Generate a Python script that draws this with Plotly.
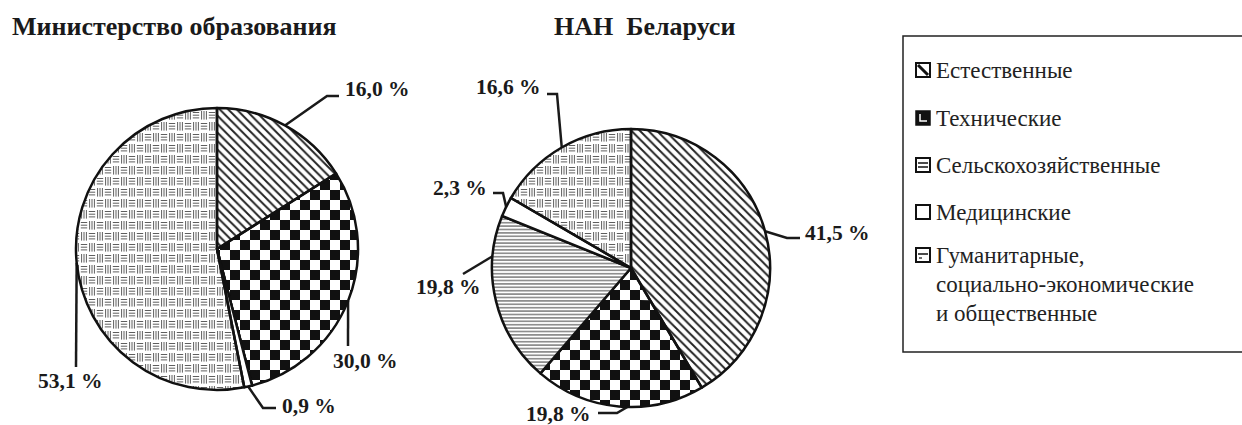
import math
import plotly.graph_objects as go

# ---------------- data ----------------
categories = ["Естественные", "Технические", "Сельскохозяйственные", "Медицинские",
              "Гуманитарные, социально-экономические и общественные"]
legend_lines = [["Естественные"], ["Технические"], ["Сельскохозяйственные"], ["Медицинские"],
                ["Гуманитарные,", "социально-экономические", "и общественные"]]
ministry_values = [16.0, 30.0, 0.0, 0.9, 53.1]
nan_values = [41.5, 19.8, 19.8, 2.3, 16.6]
titles = ["Министерство образования", "НАН  Беларуси"]

# ---------------- layout / style ----------------
W, H = 1242, 425
FONT = "Liberation Serif, Times New Roman, DejaVu Serif, serif"
INK = "#1a1a1a"
PIES = [dict(cx=217, cy=249, r=141, values=ministry_values),
        dict(cx=631, cy=268, r=139, values=nan_values)]
TITLE_POS = [(10, 26), (552, 26)]

# per-slice label styles: (fraction along slice for anchor, leader points, text x, text y, xanchor)
LABEL_STYLE = [
    {0: (0.5, [(327, 96), (339, 96)], 343, 89, "left"),
     1: (0.5, [(348, 346)], 365, 361, "center"),
     3: (0.5, [(263, 408), (276, 408)], 280, 406, "left"),
     4: (0.5, [(76, 367)], 70, 381, "center")},
    {0: (0.5, [(787, 238), (800, 238)], 803, 233, "left"),
     1: (0.45, [(617, 413), (598, 413)], 593, 414, "right"),
     2: (0.76, [(463, 274)], 483, 287, "right"),
     3: (0.5, [(503, 193), (493, 193)], 489, 188, "right"),
     4: (0.5, [(557, 94), (547, 94)], 543, 87, "right")},
]

LEGEND_BOX = (903, 36, 1262, 352)
LEGEND_ROWS = [70, 118, 165, 212, 255]
LEGEND_LINE_H = 29

TECH, HUM = 1, 4
CHECK = 10          # checker cell size (px)
HUM_W, HUM_H = 8, 11  # basket-weave cell size (px)


def pt(cx, cy, r, deg):
    a = math.radians(deg)
    return (cx + r * math.sin(a), cy - r * math.cos(a))


def slice_angles(values):
    tot = sum(values)
    out, acc = [], 0.0
    for v in values:
        a0 = acc / tot * 360
        acc += v
        out.append((a0, acc / tot * 360))
    return out


def wedge_poly(cx, cy, r, a0, a1):
    pts = [(cx, cy)]
    steps = max(2, int(abs(a1 - a0) / 1.5))
    for k in range(steps + 1):
        pts.append(pt(cx, cy, r, a0 + (a1 - a0) * k / steps))
    return pts


def signed_area(p):
    n = len(p)
    return 0.5 * sum(p[i][0] * p[(i + 1) % n][1] - p[(i + 1) % n][0] * p[i][1] for i in range(n))


def clip(subject, clipper):
    s = 1 if signed_area(clipper) > 0 else -1

    def inside(p, a, b):
        return s * ((b[0] - a[0]) * (p[1] - a[1]) - (b[1] - a[1]) * (p[0] - a[0])) >= 0

    def inter(p, q, a, b):
        x1, y1 = p; x2, y2 = q; x3, y3 = a; x4, y4 = b
        den = (x1 - x2) * (y3 - y4) - (y1 - y2) * (x3 - x4)
        if abs(den) < 1e-12:
            return q
        t = ((x1 - x3) * (y3 - y4) - (y1 - y3) * (x3 - x4)) / den
        return (x1 + t * (x2 - x1), y1 + t * (y2 - y1))

    out = list(subject)
    n = len(clipper)
    for i in range(n):
        a, b = clipper[i], clipper[(i + 1) % n]
        if a == b:
            continue
        inp, out = out, []
        if not inp:
            break
        for j in range(len(inp)):
            cur, prev = inp[j], inp[j - 1]
            if inside(cur, a, b):
                if not inside(prev, a, b):
                    out.append(inter(prev, cur, a, b))
                out.append(cur)
            elif inside(prev, a, b):
                out.append(inter(prev, cur, a, b))
    return out


fig = go.Figure()

for pi, P in enumerate(PIES):
    cx, cy, r, vals = P["cx"], P["cy"], P["r"], P["values"]
    angs = slice_angles(vals)

    # basket-weave texture (humanities) clipped to circle; other slices cover it
    hx, hy = [], []
    rr = r - 1
    i0, i1 = int((cx - r) // HUM_W) - 1, int((cx + r) // HUM_W) + 1
    j0, j1 = int((cy - r) // HUM_H) - 1, int((cy + r) // HUM_H) + 1
    for i in range(i0, i1 + 1):
        for j in range(j0, j1 + 1):
            L, T = i * HUM_W, j * HUM_H
            if (i + j) % 2 == 0:
                for off in (2.5, 5.2, 7.9):
                    y = T + off
                    dy = y - cy
                    if abs(dy) >= rr:
                        continue
                    half = math.sqrt(rr * rr - dy * dy)
                    xa, xb = max(L + 0.8, cx - half), min(L + 7.2, cx + half)
                    if xa < xb:
                        hx += [xa, xb, None]; hy += [y, y, None]
            else:
                for off in (1.6, 4.0, 6.4):
                    x = L + off
                    dx = x - cx
                    if abs(dx) >= rr:
                        continue
                    half = math.sqrt(rr * rr - dx * dx)
                    ya, yb = max(T + 1.0, cy - half), min(T + 9.6, cy + half)
                    if ya < yb:
                        hx += [x, x, None]; hy += [ya, yb, None]
    fig.add_trace(go.Scatter(x=hx, y=hy, mode="lines", line=dict(color="#5e5e5e", width=1),
                             hoverinfo="skip", showlegend=False))

    # technical slice: white base + checkerboard
    a0, a1 = angs[TECH]
    wp = wedge_poly(cx, cy, r, a0, a1)
    fig.add_trace(go.Scatter(x=[p[0] for p in wp], y=[p[1] for p in wp], mode="lines",
                             fill="toself", fillcolor="white", line=dict(width=0, color="rgba(0,0,0,0)"),
                             hoverinfo="skip", showlegend=False))
    xs = [p[0] for p in wp]; ys = [p[1] for p in wp]
    cxs, cys = [], []
    for i in range(int(min(xs) // CHECK) - 1, int(max(xs) // CHECK) + 2):
        for j in range(int(min(ys) // CHECK) - 1, int(max(ys) // CHECK) + 2):
            if (i + j) % 2:
                continue
            sq = [(i * CHECK, j * CHECK), ((i + 1) * CHECK, j * CHECK),
                  ((i + 1) * CHECK, (j + 1) * CHECK), (i * CHECK, (j + 1) * CHECK)]
            poly = clip(sq, wp)
            if len(poly) >= 3:
                cxs += [p[0] for p in poly] + [poly[0][0], None]
                cys += [p[1] for p in poly] + [poly[0][1], None]
    fig.add_trace(go.Scatter(x=cxs, y=cys, mode="lines", fill="toself", fillcolor="#111111",
                             line=dict(width=0, color="rgba(0,0,0,0)"),
                             hoverinfo="skip", showlegend=False))

    # the pie itself
    colors = ["white", "rgba(0,0,0,0)", "white", "white", "rgba(0,0,0,0)"]
    fig.add_trace(go.Pie(
        labels=categories, values=vals, sort=False, direction="clockwise", rotation=0,
        textinfo="none", hoverinfo="label+value", showlegend=False,
        domain=dict(x=[(cx - r) / W, (cx + r) / W], y=[1 - (cy + r) / H, 1 - (cy - r) / H]),
        marker=dict(colors=colors, line=dict(color="#111111", width=2.5),
                    pattern=dict(shape=["\\", "", "-", "", ""],
                                 fgcolor=["#222222", "#000", "#555555", "#000", "#000"],
                                 bgcolor=["white", "rgba(0,0,0,0)", "white", "white", "rgba(0,0,0,0)"],
                                 size=[6, 8, 3.4, 8, 8], solidity=[0.32, 0.3, 0.33, 0.3, 0.3],
                                 fillmode="replace")),
    ))

    # labels with leader lines
    for k, (frac, path, tx, ty, xa) in LABEL_STYLE[pi].items():
        b0, b1 = angs[k]
        ax, ay = pt(cx, cy, r, b0 + (b1 - b0) * frac)
        fig.add_trace(go.Scatter(x=[ax] + [p[0] for p in path], y=[ay] + [p[1] for p in path],
                                 mode="lines", line=dict(color=INK, width=2.5),
                                 hoverinfo="skip", showlegend=False))
        txt = ("%.1f" % vals[k]).replace(".", ",") + " %"
        fig.add_annotation(x=tx, y=ty, xref="x", yref="y", text="<b>" + txt + "</b>",
                           showarrow=False, xanchor=xa, yanchor="middle",
                           font=dict(family=FONT, size=21.5, color=INK))

# titles
for (tx, ty), t in zip(TITLE_POS, titles):
    fig.add_annotation(x=tx, y=ty, xref="x", yref="y", text="<b>" + t + "</b>", showarrow=False,
                       xanchor="left", yanchor="middle", font=dict(family=FONT, size=26, color=INK))

# legend (manual)
shapes = [dict(type="rect", xref="x", yref="y", x0=LEGEND_BOX[0], y0=LEGEND_BOX[1],
               x1=LEGEND_BOX[2], y1=LEGEND_BOX[3], line=dict(color="#222", width=1.5))]
for idx, (lines, yc) in enumerate(zip(legend_lines, LEGEND_ROWS)):
    x0, x1, y0, y1 = 916, 930, yc - 7, yc + 7
    if idx == 1:
        shapes.append(dict(type="rect", xref="x", yref="y", x0=x0, y0=y0, x1=x1, y1=y1,
                           fillcolor="#111", line=dict(color="#111", width=1.5)))
        shapes.append(dict(type="path", xref="x", yref="y",
                           path=f"M{x0+4},{y0+3} L{x0+4},{y1-4} L{x1-3},{y1-4}",
                           line=dict(color="white", width=1.5)))
    else:
        shapes.append(dict(type="rect", xref="x", yref="y", x0=x0, y0=y0, x1=x1, y1=y1,
                           fillcolor="white", line=dict(color="#111", width=2)))
        if idx == 0:
            shapes.append(dict(type="line", xref="x", yref="y", x0=x0 + 2, y0=y0 + 2, x1=x1 - 2, y1=y1 - 2,
                               line=dict(color="#111", width=3)))
        elif idx == 2:
            for yy in (yc - 2, yc + 2):
                shapes.append(dict(type="line", xref="x", yref="y", x0=x0 + 2, y0=yy, x1=x1 - 2, y1=yy,
                                   line=dict(color="#111", width=1.5)))
        elif idx == 4:
            shapes.append(dict(type="line", xref="x", yref="y", x0=x0 + 2, y0=yc - 1, x1=x1 - 2, y1=yc - 1,
                               line=dict(color="#111", width=1.5)))
            shapes.append(dict(type="line", xref="x", yref="y", x0=x0 + 3, y0=yc + 3, x1=x0 + 6, y1=yc + 3,
                               line=dict(color="#111", width=1.2)))
    for li, line in enumerate(lines):
        fig.add_annotation(x=934, y=yc + li * LEGEND_LINE_H, xref="x", yref="y", text=line,
                           showarrow=False, xanchor="left", yanchor="middle",
                           font=dict(family=FONT, size=23, color="#222"))

fig.update_layout(
    width=W, height=H, autosize=False,
    margin=dict(l=0, r=0, t=0, b=0),
    paper_bgcolor="white", plot_bgcolor="white",
    xaxis=dict(range=[0, W], visible=False, fixedrange=True, domain=[0, 1]),
    yaxis=dict(range=[H, 0], visible=False, fixedrange=True, domain=[0, 1]),
    shapes=shapes, showlegend=False,
)

fig.write_html("out.html", config={"displayModeBar": False},
               post_script="document.body.style.margin='0';document.body.style.overflow='hidden';")
